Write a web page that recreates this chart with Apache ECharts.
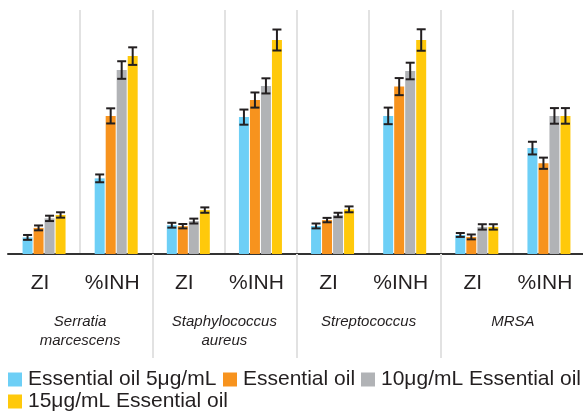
<!DOCTYPE html>
<html><head><meta charset="utf-8">
<script src="https://cdn.jsdelivr.net/npm/echarts@6/dist/echarts.min.js"></script>
<style>html,body{margin:0;padding:0;background:#fff;overflow:hidden}#c{width:583px;height:411px}</style>
</head><body><div id="c"></div>
<script>
// ---- data ----
const categories = ['ZI', '%INH', 'ZI', '%INH', 'ZI', '%INH', 'ZI', '%INH'];
const organisms = ['Serratia\nmarcescens', 'Staphylococcus\naureus', 'Streptococcus', 'MRSA'];
const seriesNames = ['Essential oil 5μg/mL', 'Essential oil', '10μg/mL Essential oil', '15μg/mL Essential oil'];
const oil5  = [6.8, 31.0, 11.8, 56.1, 11.5, 56.6, 7.8, 43.4];
const oilB  = [10.7, 56.6, 11.4, 63.1, 13.9, 68.6, 7.0, 37.2];
const oil10 = [14.6, 75.4, 13.5, 68.9, 16.0, 75.0, 11.1, 56.6];
const oil15 = [16.0, 81.1, 18.0, 87.7, 18.3, 87.7, 11.1, 56.6];
const err5  = [1.0, 1.6, 1.0, 3.1, 1.0, 3.4, 0.8, 2.6];
const errB  = [1.0, 3.1, 0.9, 3.1, 0.9, 3.5, 1.0, 2.3];
const err10 = [1.1, 3.6, 1.0, 3.1, 0.9, 3.4, 1.1, 3.2];
const err15 = [1.1, 3.6, 1.1, 4.3, 1.2, 4.4, 1.1, 3.2];
const colors = ['#6dcff6', '#f7931e', '#b1b3b6', '#ffc90b'];

const values = [oil5, oilB, oil10, oil15];
const errors = [err5, errB, err10, err15];
const FONT = "'Liberation Sans', Arial, sans-serif";
const TXT = '#231f20';
const BAR_W = 10, BAR_GAP = 1;

function errRender(si) {
  return function (params, api) {
    const ci = api.value(0), v = api.value(1), e = api.value(2);
    const off = (si - 1.5) * (BAR_W + BAR_GAP);
    const top = api.coord([ci, v + e]);
    const bot = api.coord([ci, v - e]);
    const x = top[0] + off;
    const hw = 4.5;
    const style = { stroke: '#231f20', lineWidth: 2 };
    return {
      type: 'group', children: [
        { type: 'line', shape: { x1: x, y1: top[1], x2: x, y2: bot[1] }, style },
        { type: 'line', shape: { x1: x - hw, y1: top[1], x2: x + hw, y2: top[1] }, style },
        { type: 'line', shape: { x1: x - hw, y1: bot[1], x2: x + hw, y2: bot[1] }, style }
      ]
    };
  };
}

const series = [];
values.forEach((arr, si) => {
  series.push({
    name: seriesNames[si], type: 'bar', data: arr,
    barWidth: BAR_W, barGap: '10%',
    itemStyle: { color: colors[si] }
  });
});
values.forEach((arr, si) => {
  series.push({
    name: 'err' + si, type: 'custom', renderItem: errRender(si),
    encode: { x: 0, y: 1 }, z: 5,
    data: arr.map((v, i) => [i, v, errors[si][i]])
  });
});

function legendItem(idx, left, top) {
  return {
    data: [seriesNames[idx]], left: left, top: top, padding: 0,
    itemWidth: 14, itemHeight: 14, icon: 'rect', selectedMode: false,
    textStyle: { fontSize: 21, color: TXT, fontFamily: FONT, padding: [0, 0, 0, 1] }
  };
}

const chart = echarts.init(document.getElementById('c'), null, { renderer: 'canvas' });
chart.setOption({
  animation: false,
  backgroundColor: '#fff',
  textStyle: { fontFamily: FONT },
  grid: { left: 8, right: -2, top: 10, bottom: 157, containLabel: false, outerBoundsMode: 'none' },
  legend: [
    legendItem(0, 8, 369),
    legendItem(1, 223, 369),
    legendItem(2, 361, 369),
    legendItem(3, 8, 391)
  ],
  xAxis: [
    {
      type: 'category', data: categories, position: 'bottom',
      axisLine: { show: true, lineStyle: { color: '#333', width: 2 } },
      axisTick: { show: false },
      splitLine: { show: true, interval: function (i) { return i !== 0; }, lineStyle: { color: '#e2e2e2', width: 2 } },
      axisLabel: { fontSize: 21, color: TXT, fontFamily: FONT, margin: 19, padding: [0, 8, 0, 0], interval: 0 }
    },
    {
      type: 'category', data: organisms, position: 'bottom', gridIndex: 0,
      axisLine: { show: false },
      axisTick: { show: true, length: 104, interval: function (i) { return i !== 0; }, lineStyle: { color: '#e2e2e2', width: 2 } },
      splitLine: { show: false },
      axisLabel: { fontSize: 15, fontStyle: 'italic', color: TXT, fontFamily: FONT, margin: 58, lineHeight: 19, interval: 0 }
    }
  ],
  yAxis: { type: 'value', min: 0, max: 100, show: false, splitLine: { show: false } },
  series: series
});
</script></body></html>
